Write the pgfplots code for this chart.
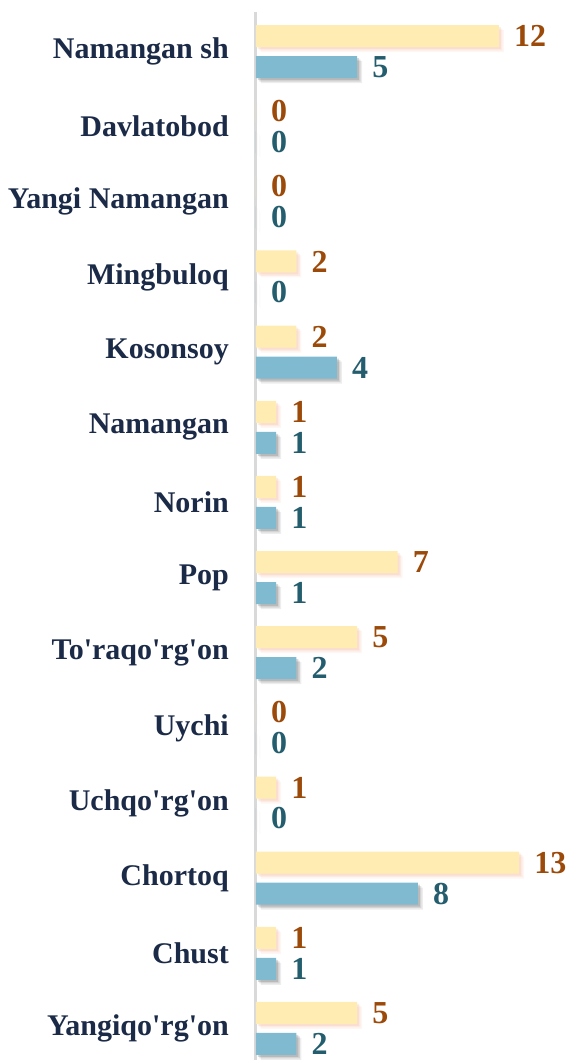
\documentclass[border=0pt]{standalone}
\usepackage{fontspec}
\setmainfont{Liberation Serif}
\usepackage{pgfplots}
\pgfplotsset{compat=1.18}
\definecolor{baryel}{HTML}{FFECB3}
\definecolor{barblu}{HTML}{7FBAD1}
\definecolor{labyel}{HTML}{9C4A0A}
\definecolor{labblu}{HTML}{245E6E}
\definecolor{catcol}{HTML}{1B2A47}
\definecolor{axgray}{HTML}{D9D9D9}
\definecolor{shyel}{HTML}{F2A98A}
\definecolor{shblu}{HTML}{4A4A4A}
\tikzset{
  softshadow/.style={
    preaction={fill=#1, fill opacity=0.10, transform canvas={shift={(5pt,-5pt)}}},
    preaction={fill=#1, fill opacity=0.15, transform canvas={shift={(3.5pt,-3.5pt)}}},
    preaction={fill=#1, fill opacity=0.20, transform canvas={shift={(2pt,-2pt)}}},
  }
}
\begin{document}
\begin{tikzpicture}
\begin{axis}[
  xbar,
  scale only axis,
  width=313pt, height=1048pt,
  xmin=0, xmax=15.46,
  ymin=-0.526, ymax=13.42,
  y dir=reverse,
  bar width=22pt,
  axis x line=none,
  axis y line*=left,
  y axis line style={draw=axgray, line width=3pt, -},
  ytick={0,...,13},
  yticklabels={Namangan sh, Davlatobod, Yangi Namangan, Mingbuloq, Kosonsoy, Namangan, Norin, Pop, To\textquotesingle raqo\textquotesingle rg\textquotesingle on, Uychi, Uchqo\textquotesingle rg\textquotesingle on, Chortoq, Chust, Yangiqo\textquotesingle rg\textquotesingle on},
  major tick length=0pt,
  yticklabel style={font=\fontsize{30}{32}\selectfont\bfseries, text=catcol, inner sep=0pt, anchor=east, xshift=-27pt},
  nodes near coords,
  /pgf/number format/assume math mode=true,
  nodes near coords style={font=\fontsize{32}{34}\selectfont\bfseries, inner sep=0pt, anchor=west, xshift=15pt},
  clip=false,
]
\addplot[fill=baryel, draw=none, bar shift=15.5pt, softshadow=shyel,
  nodes near coords style={text=labyel}]
  coordinates {(12,0) (0,1) (0,2) (2,3) (2,4) (1,5) (1,6) (7,7) (5,8) (0,9) (1,10) (13,11) (1,12) (5,13)};
\addplot[fill=barblu, draw=none, bar shift=-15.5pt, softshadow=shblu,
  nodes near coords style={text=labblu}]
  coordinates {(5,0) (0,1) (0,2) (0,3) (4,4) (1,5) (1,6) (1,7) (2,8) (0,9) (0,10) (8,11) (1,12) (2,13)};
\end{axis}
\pgfresetboundingbox
\path[use as bounding box] ([xshift=-256pt]current axis.south west) rectangle ([yshift=12pt]current axis.north east);
\end{tikzpicture}
\end{document}
